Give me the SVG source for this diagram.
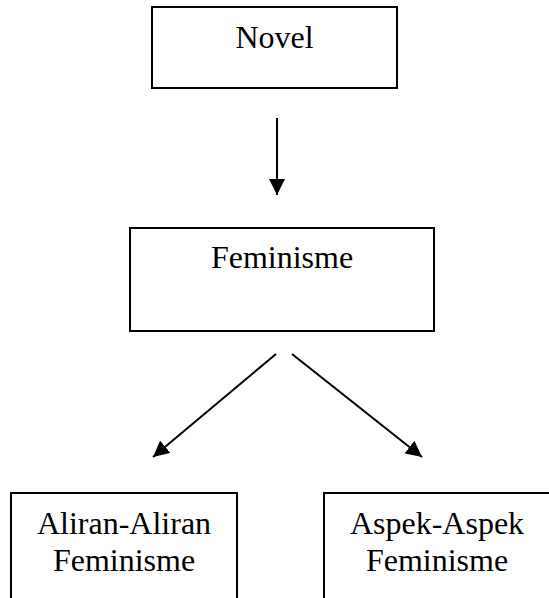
<svg xmlns="http://www.w3.org/2000/svg" width="549" height="598" viewBox="0 0 549 598">
<style>
.box{fill:#fff;stroke:#000;stroke-width:2}
.lbl{font-family:"Liberation Serif","Times New Roman",serif;font-size:32px;fill:#000;text-anchor:middle}
.conn{stroke:#000;stroke-width:2;fill:none}
</style>
<defs>
<marker id="ah" markerUnits="userSpaceOnUse" markerWidth="16" markerHeight="16" viewBox="0 0 16 16" refX="16" refY="8" orient="auto">
<path d="M0,0 L16,8 L0,16 Z" fill="#000"/>
</marker>
</defs>
<rect width="549" height="598" fill="#fff"/>
<g id="novel">
<rect class="box" x="152" y="7" width="245" height="81"/>
<text class="lbl" x="274.5" y="48">Novel</text>
</g>
<g id="feminisme">
<rect class="box" x="130" y="228" width="304" height="103"/>
<text class="lbl" x="282" y="268">Feminisme</text>
</g>
<g id="aliran">
<rect class="box" x="11" y="493" width="226" height="120"/>
<text class="lbl" x="124" y="534">Aliran-Aliran</text>
<text class="lbl" x="124" y="570.5">Feminisme</text>
</g>
<g id="aspek">
<rect class="box" x="324" y="493" width="240" height="120"/>
<text class="lbl" x="437" y="534">Aspek-Aspek</text>
<text class="lbl" x="437" y="570.5">Feminisme</text>
</g>
<g id="connectors">
<line class="conn" x1="277" y1="118" x2="277" y2="195" marker-end="url(#ah)"/>
<line class="conn" x1="276" y1="354" x2="153" y2="457" marker-end="url(#ah)"/>
<line class="conn" x1="292" y1="354" x2="422" y2="457" marker-end="url(#ah)"/>
</g>
</svg>
